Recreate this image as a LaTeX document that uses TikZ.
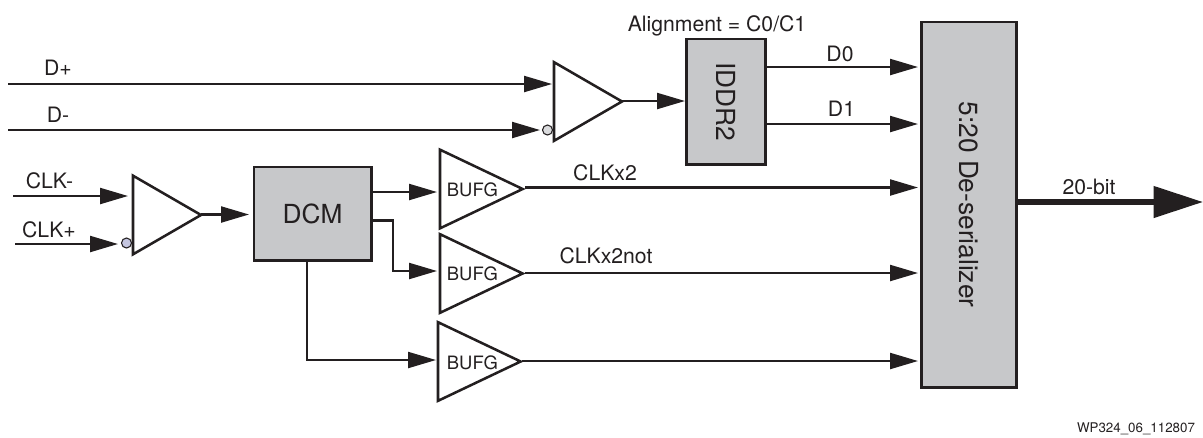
\documentclass[tikz,border=0pt]{standalone}
\usepackage{fontspec}
\setmainfont{TeX Gyre Heros}
\usetikzlibrary{shapes.geometric,arrows.meta}
\definecolor{ink}{HTML}{231F20}
\definecolor{boxgray}{HTML}{C7C8CA}
\definecolor{bubbleA}{HTML}{C5C6E0}
\definecolor{bubbleB}{HTML}{DADBDD}
\tikzset{
  every node/.style={text=ink},
  blk/.style={draw=ink,line width=2pt,fill=boxgray,rectangle,inner sep=0pt,outer sep=0pt},
  tri/.style={draw=ink,line width=1.9pt,shape=isosceles triangle,isosceles triangle stretches,
     shape border rotate=0,anchor=lower side,inner sep=0pt,outer sep=0pt,minimum width=59pt,minimum height=62pt},
  smalltri/.style={tri,minimum width=59pt,minimum height=51pt},
  wire/.style={draw=ink,line width=1.7pt},
  arr/.style={wire,-{Triangle[length=21pt,width=12pt]}},
  fat/.style={draw=ink,line width=4pt,-{Triangle[length=37pt,width=23pt]}},
  bubble/.style={circle,draw=ink,line width=0.8pt,inner sep=0pt,minimum size=7.5pt},
  lab/.style={anchor=base,inner sep=0pt,font=\fontsize{15.9pt}{18pt}\selectfont},
  buflab/.style={anchor=base,inner sep=0pt,font=\fontsize{13.8pt}{16pt}\selectfont},
  big/.style={font=\fontsize{19.7pt}{22pt}\selectfont}
}
\begin{document}
\begin{tikzpicture}[x=0.75pt,y=-0.75pt]
\useasboundingbox (0,0) rectangle (1203,437);

% blocks
\node[blk,big,minimum width=88pt,minimum height=70pt] (dcm) at (312.5,213.5) {DCM};
\node[blk,big,rotate=-90,minimum width=94pt,minimum height=59pt] (iddr) at (726,101.5) {IDDR2};
\node[blk,big,rotate=-90,minimum width=274pt,minimum height=71pt] (des) at (969,204.5) {5:20 De-serializer};

% triangles
\node[smalltri] (rxd) at (554,101.5) {};
\node[smalltri] (rxc) at (133,215) {};
\node[tri] (b1) at (440,189) {};
\node[tri] (b2) at (440,273.5) {};
\node[tri] (b3) at (438,361.5) {};

% bubbles
\node[bubble,fill=bubbleB] (bubd) at (547.5,130) {};
\node[bubble,fill=bubbleA] (bubc) at (126.5,243) {};

% free ends
\coordinate (dp) at (8,84);
\coordinate (dpe) at (552,84);
\coordinate (dm) at (8,130);
\coordinate (dme) at (540,130);
\coordinate (cm) at (13,196);
\coordinate (cme) at (128,196);
\coordinate (cp) at (15,244);
\coordinate (cpe) at (118,244);
\coordinate (rxdo) at (622,101);
\coordinate (iddri) at (685,101);
\coordinate (rxco) at (201,214.5);
\coordinate (dcmi) at (249,214.5);
\coordinate (q0) at (766,67);
\coordinate (q0e) at (918,67);
\coordinate (q1) at (766,124);
\coordinate (q1e) at (918,124);
\coordinate (o1) at (372,192);
\coordinate (o1e) at (437,192);
\coordinate (o2) at (372,220.5);
\coordinate (o2m) at (393,220.5);
\coordinate (o2n) at (393,271);
\coordinate (o2e) at (437,271);
\coordinate (o3) at (307,261);
\coordinate (o3m) at (307,360);
\coordinate (o3e) at (436,360);
\coordinate (b1o) at (525,187.5);
\coordinate (b1e) at (918,187.5);
\coordinate (b2o) at (525,273);
\coordinate (b2e) at (918,273);
\coordinate (b3o) at (522,361);
\coordinate (b3e) at (918,361);
\coordinate (out) at (1017,202);
\coordinate (oute) at (1203,202);

% connectors
\draw[arr] (dp) -- (dpe);
\draw[arr] (dm) -- (dme);
\draw[arr] (cm) -- (cme);
\draw[arr] (cp) -- (cpe);
\draw[arr] (rxdo) -- (iddri);
\draw[arr] (rxco) -- (dcmi);
\draw[arr] (q0) -- (q0e);
\draw[arr] (q1) -- (q1e);
\draw[arr] (o1) -- (o1e);
\draw[arr] (o2) -- (o2m) -- (o2n) -- (o2e);
\draw[arr] (o3) -- (o3m) -- (o3e);
\draw[arr] (b1o) -- (b1e);
\draw[arr] (b2o) -- (b2e);
\draw[arr] (b3o) -- (b3e);
\draw[fat] (out) -- (oute);

% labels
\node[lab] (tdp) at (58,75) {D+};
\node[lab] (tdm) at (58,122) {D-};
\node[lab] (tcm) at (49.5,188) {CLK-};
\node[lab] (tcp) at (49,237) {CLK+};
\node[lab] (tal) at (717,31) {Alignment = C0/C1};
\node[lab] (td0) at (840,61) {D0};
\node[lab] (td1) at (841.5,116) {D1};
\node[lab] (tx2) at (605,180) {CLKx2};
\node[lab] (tx2n) at (606,263) {CLKx2not};
\node[lab] (t20) at (1089,194) {20-bit};
\node[buflab] (tb1) at (472.5,196) {BUFG};
\node[buflab] (tb2) at (472.5,280) {BUFG};
\node[buflab] (tb3) at (472.5,369) {BUFG};
\node[anchor=base,inner sep=0pt,font=\fontsize{10pt}{12pt}\selectfont] (twp) at (1136,432) {WP324\_06\_112807};
\end{tikzpicture}
\end{document}
